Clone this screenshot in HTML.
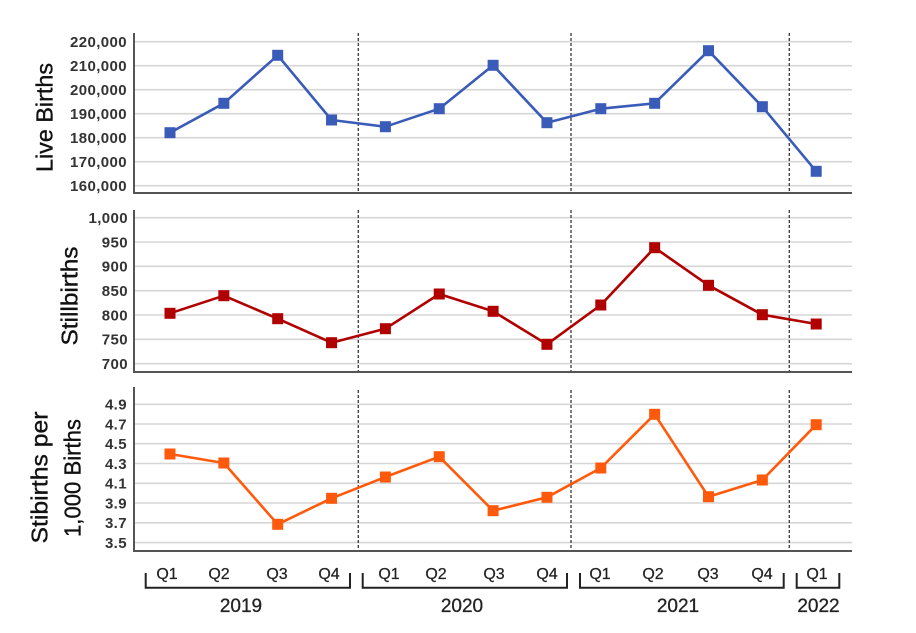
<!DOCTYPE html>
<html>
<head>
<meta charset="utf-8">
<style>
html,body{margin:0;padding:0;background:#fff;}
svg{display:block;}
text{font-family:"Liberation Sans","DejaVu Sans",sans-serif;}
.tk{font-size:15px;font-weight:bold;fill:#333;letter-spacing:0.4px;}
.ttl{font-size:23px;fill:#111;stroke:#111;stroke-width:0.35px;}
.q{font-size:16px;fill:#222;stroke:#222;stroke-width:0.25px;}
.yr{font-size:19px;fill:#222;stroke:#222;stroke-width:0.3px;}
.grid{stroke:#d6d6d6;stroke-width:1.6;}
.ax{stroke:#555;stroke-width:2;fill:none;}
.dash{stroke:#444;stroke-width:1.4;stroke-dasharray:3,2;}
.br{stroke:#222;stroke-width:2;fill:none;}
</style>
</head>
<body>
<svg width="916" height="633" viewBox="0 0 916 633" xmlns="http://www.w3.org/2000/svg">
<g class="grid">
<line x1="134" y1="41.7" x2="852" y2="41.7"/>
<line x1="134" y1="65.7" x2="852" y2="65.7"/>
<line x1="134" y1="89.7" x2="852" y2="89.7"/>
<line x1="134" y1="113.7" x2="852" y2="113.7"/>
<line x1="134" y1="137.7" x2="852" y2="137.7"/>
<line x1="134" y1="161.7" x2="852" y2="161.7"/>
<line x1="134" y1="185.7" x2="852" y2="185.7"/>
</g>
<g class="grid">
<line x1="134" y1="217.7" x2="852" y2="217.7"/>
<line x1="134" y1="242" x2="852" y2="242"/>
<line x1="134" y1="266.3" x2="852" y2="266.3"/>
<line x1="134" y1="290.7" x2="852" y2="290.7"/>
<line x1="134" y1="315" x2="852" y2="315"/>
<line x1="134" y1="339.3" x2="852" y2="339.3"/>
<line x1="134" y1="363.7" x2="852" y2="363.7"/>
</g>
<g class="grid">
<line x1="134" y1="404.3" x2="852" y2="404.3"/>
<line x1="134" y1="424" x2="852" y2="424"/>
<line x1="134" y1="443.7" x2="852" y2="443.7"/>
<line x1="134" y1="463.5" x2="852" y2="463.5"/>
<line x1="134" y1="483.3" x2="852" y2="483.3"/>
<line x1="134" y1="503" x2="852" y2="503"/>
<line x1="134" y1="522.8" x2="852" y2="522.8"/>
<line x1="134" y1="542.6" x2="852" y2="542.6"/>
</g>
<g class="dash">
<line x1="358.3" y1="33" x2="358.3" y2="193"/>
<line x1="571" y1="33" x2="571" y2="193"/>
<line x1="789.3" y1="33" x2="789.3" y2="193"/>
<line x1="358.3" y1="210" x2="358.3" y2="372"/>
<line x1="571" y1="210" x2="571" y2="372"/>
<line x1="789.3" y1="210" x2="789.3" y2="372"/>
<line x1="358.3" y1="390" x2="358.3" y2="551"/>
<line x1="571" y1="390" x2="571" y2="551"/>
<line x1="789.3" y1="390" x2="789.3" y2="551"/>
</g>
<path class="ax" d="M134 33 V193 H852"/>
<path class="ax" d="M134 210 V372 H852"/>
<path class="ax" d="M134 387 V551 H852"/>

<g class="tk" text-anchor="end">
<text x="127" y="47">220,000</text>
<text x="127" y="71">210,000</text>
<text x="127" y="95">200,000</text>
<text x="127" y="119">190,000</text>
<text x="127" y="143">180,000</text>
<text x="127" y="167">170,000</text>
<text x="127" y="191">160,000</text>
</g>
<g class="tk" text-anchor="end">
<text x="128" y="223">1,000</text>
<text x="128" y="247.3">950</text>
<text x="128" y="271.6">900</text>
<text x="128" y="296">850</text>
<text x="128" y="320.3">800</text>
<text x="128" y="344.6">750</text>
<text x="128" y="369">700</text>
</g>
<g class="tk" text-anchor="end">
<text x="127" y="409.6">4.9</text>
<text x="127" y="429.3">4.7</text>
<text x="127" y="449">4.5</text>
<text x="127" y="468.8">4.3</text>
<text x="127" y="488.6">4.1</text>
<text x="127" y="508.3">3.9</text>
<text x="127" y="528.1">3.7</text>
<text x="127" y="547.9">3.5</text>
</g>

<text class="ttl" transform="translate(52.5,117.5) rotate(-90)" text-anchor="middle" textLength="109" lengthAdjust="spacingAndGlyphs">Live Births</text>
<text class="ttl" transform="translate(77.5,296) rotate(-90)" text-anchor="middle" textLength="99" lengthAdjust="spacingAndGlyphs">Stillbirths</text>
<text class="ttl" transform="translate(47.5,477.5) rotate(-90)" text-anchor="middle" textLength="132" lengthAdjust="spacingAndGlyphs">Stibirths per</text>
<text class="ttl" transform="translate(80.5,478) rotate(-90)" text-anchor="middle" textLength="118" lengthAdjust="spacingAndGlyphs">1,000 Births</text>

<polyline fill="none" stroke="#3a5cb8" stroke-width="2.6" stroke-linejoin="round"
points="170,132.7 223.85,103.3 277.7,55.3 331.55,120 385.4,126.7 439.25,108.7 493.1,65.3 546.95,122.7 600.8,108.7 654.65,103.3 708.5,50.7 762.35,106.7 816.2,171.3"/>
<g fill="#3a5cb8">
<rect x="164.5" y="127.2" width="11" height="11"/>
<rect x="218.35" y="97.8" width="11" height="11"/>
<rect x="272.2" y="49.8" width="11" height="11"/>
<rect x="326.05" y="114.5" width="11" height="11"/>
<rect x="379.9" y="121.2" width="11" height="11"/>
<rect x="433.75" y="103.2" width="11" height="11"/>
<rect x="487.6" y="59.8" width="11" height="11"/>
<rect x="541.45" y="117.2" width="11" height="11"/>
<rect x="595.3" y="103.2" width="11" height="11"/>
<rect x="649.15" y="97.8" width="11" height="11"/>
<rect x="703" y="45.2" width="11" height="11"/>
<rect x="756.85" y="101.2" width="11" height="11"/>
<rect x="810.7" y="165.8" width="11" height="11"/>
</g>

<polyline fill="none" stroke="#b00000" stroke-width="2.6" stroke-linejoin="round"
points="170,313.3 223.85,295.7 277.7,318.7 331.55,342.7 385.4,328.7 439.25,294 493.1,311.3 546.95,344.3 600.8,305 654.65,247.7 708.5,285.3 762.35,314.7 816.2,324"/>
<g fill="#b00000">
<rect x="164.5" y="307.8" width="11" height="11"/>
<rect x="218.35" y="290.2" width="11" height="11"/>
<rect x="272.2" y="313.2" width="11" height="11"/>
<rect x="326.05" y="337.2" width="11" height="11"/>
<rect x="379.9" y="323.2" width="11" height="11"/>
<rect x="433.75" y="288.5" width="11" height="11"/>
<rect x="487.6" y="305.8" width="11" height="11"/>
<rect x="541.45" y="338.8" width="11" height="11"/>
<rect x="595.3" y="299.5" width="11" height="11"/>
<rect x="649.15" y="242.2" width="11" height="11"/>
<rect x="703" y="279.8" width="11" height="11"/>
<rect x="756.85" y="309.2" width="11" height="11"/>
<rect x="810.7" y="318.5" width="11" height="11"/>
</g>

<polyline fill="none" stroke="#ff5a0c" stroke-width="2.6" stroke-linejoin="round"
points="170,454 223.85,463 277.7,524.3 331.55,498.3 385.4,477 439.25,456.7 493.1,510.7 546.95,497.3 600.8,468 654.65,414.3 708.5,496.7 762.35,480 816.2,424.7"/>
<g fill="#ff5a0c">
<rect x="164.5" y="448.5" width="11" height="11"/>
<rect x="218.35" y="457.5" width="11" height="11"/>
<rect x="272.2" y="518.8" width="11" height="11"/>
<rect x="326.05" y="492.8" width="11" height="11"/>
<rect x="379.9" y="471.5" width="11" height="11"/>
<rect x="433.75" y="451.2" width="11" height="11"/>
<rect x="487.6" y="505.2" width="11" height="11"/>
<rect x="541.45" y="491.8" width="11" height="11"/>
<rect x="595.3" y="462.5" width="11" height="11"/>
<rect x="649.15" y="408.8" width="11" height="11"/>
<rect x="703" y="491.2" width="11" height="11"/>
<rect x="756.85" y="474.5" width="11" height="11"/>
<rect x="810.7" y="419.2" width="11" height="11"/>
</g>

<g class="q" text-anchor="middle">
<text x="167" y="579">Q1</text>
<text x="219" y="579">Q2</text>
<text x="277" y="579">Q3</text>
<text x="329" y="579">Q4</text>
<text x="389" y="579">Q1</text>
<text x="436" y="579">Q2</text>
<text x="494" y="579">Q3</text>
<text x="547" y="579">Q4</text>
<text x="600" y="579">Q1</text>
<text x="653" y="579">Q2</text>
<text x="708" y="579">Q3</text>
<text x="762" y="579">Q4</text>
<text x="817" y="579">Q1</text>
</g>
<path class="br" d="M145.7 573 V587.7 H350 V573"/>
<path class="br" d="M362.7 573 V587.7 H567 V573"/>
<path class="br" d="M580 573 V587.7 H783.7 V573"/>
<path class="br" d="M796.7 573 V587.7 H839.3 V573"/>
<g class="yr" text-anchor="middle">
<text x="241" y="612">2019</text>
<text x="462" y="612">2020</text>
<text x="678" y="612">2021</text>
<text x="818.5" y="612">2022</text>
</g>
</svg>
</body>
</html>
